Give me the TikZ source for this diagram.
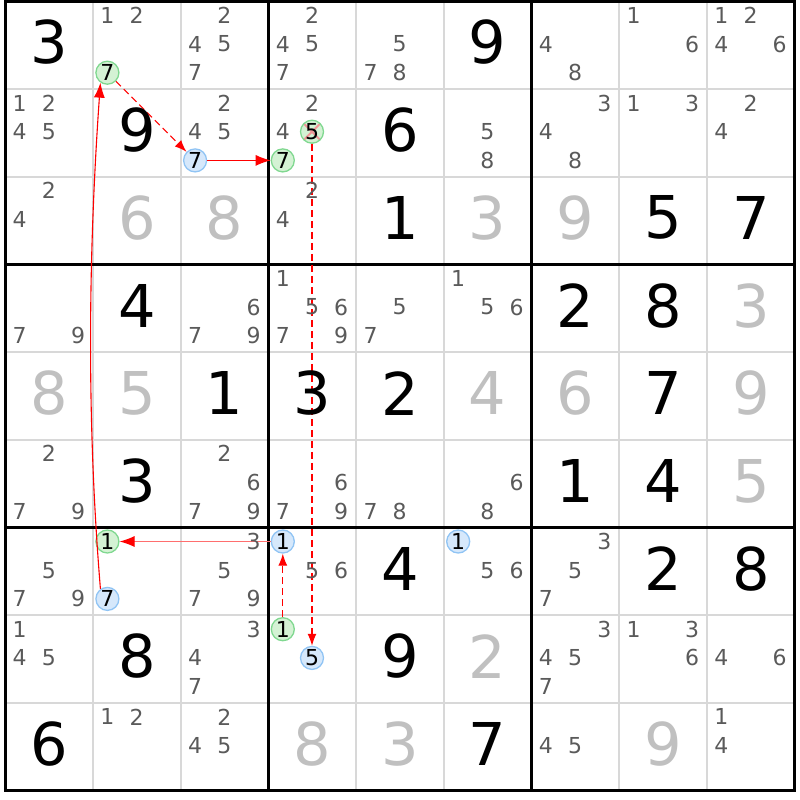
\documentclass[tikz,border=0pt]{standalone}
\usepackage{fontspec}
\setmainfont{DejaVu Sans}
\usepackage{tikz}
\usetikzlibrary{calc,arrows.meta}

\definecolor{candgray}{RGB}{90,90,90}
\definecolor{placedgray}{RGB}{192,192,192}
\definecolor{gridgray}{RGB}{216,216,216}
\definecolor{greenfill}{RGB}{212,242,212}
\definecolor{greenline}{RGB}{128,216,144}
\definecolor{bluefill}{RGB}{214,232,251}
\definecolor{blueline}{RGB}{144,196,244}
\definecolor{crossred}{RGB}{240,150,150}
\definecolor{palered}{RGB}{255,110,110}

\begin{document}
\begin{tikzpicture}[x=1pt,y=-1pt,
	cand/.style={text=candgray,font=\fontsize{22}{22}\selectfont,inner sep=0pt},
	given/.style={font=\fontsize{59}{59}\selectfont,inner sep=0pt},
	placed/.style={given,text=placedgray},
	greencand/.style={circle,draw=greenline,fill=greenfill,line width=1.3pt,inner sep=0pt,minimum size=23pt,font=\fontsize{22}{22}\selectfont},
	bluecand/.style={greencand,draw=blueline,fill=bluefill},
	crossedcand/.style={greencand,path picture={\draw[crossred,line width=2pt] (path picture bounding box.north west) -- (path picture bounding box.south east) (path picture bounding box.north east) -- (path picture bounding box.south west);}},
	link/.style={red,line width=1.1pt,-{Latex[length=15pt,width=11pt,red]}},
	dashlink/.style={link,dash pattern=on 7pt off 4pt,-{Latex[length=12pt,width=9pt,red]}}]
\useasboundingbox (0,0) rectangle (800,800);

% grid
\foreach \i in {0,...,9}
	{
	\draw[gridgray,line width=2pt] ({5.2+87.7*\i},1.5) -- ({5.2+87.7*\i},790.8);
	\draw[gridgray,line width=2pt] (5.2,{1.5+87.7*\i}) -- (794.5,{1.5+87.7*\i});
	}
\foreach \i in {0,3,6,9}
	{
	\draw[black,line width=3pt,line cap=rect] ({5.2+87.7*\i},1.5) -- ({5.2+87.7*\i},790.8);
	\draw[black,line width=3pt,line cap=rect] (5.2,{1.5+87.7*\i}) -- (794.5,{1.5+87.7*\i});
	}

% marked candidates
\foreach \r/\c/\d/\kind in {0/1/7/greencand, 1/2/7/bluecand, 1/3/5/crossedcand, 1/3/7/greencand,
	6/1/1/greencand, 6/1/7/bluecand, 6/3/1/bluecand, 6/5/1/bluecand, 7/3/1/greencand, 7/3/5/bluecand}
	{
	\node[\kind] (r\r c\c n\d) at ({5.2+87.7*\c+14.5+29.2*mod(\d-1,3)},{1.5+87.7*\r+13.8+28.7*floor((\d-1)/3)}) {\d};
	}

% chain
\draw[link] (r6c1n7.125) .. controls +(-14,-170) and +(-12,170) .. (r0c1n7.235);
\draw[dashlink] (r0c1n7) -- (r1c2n7);
\draw[link] (r1c2n7) -- (r1c3n7);
\draw[dashlink] (r1c3n5) -- (r7c3n5);
\draw[link,palered] (r6c3n1) -- (r6c1n1);
\draw[dashlink] (r7c3n1) -- (r6c3n1);

% pencil marks
\foreach \r/\c/\list in {0/1/{1,2}, 0/2/{2,4,5,7}, 0/3/{2,4,5,7}, 0/4/{5,7,8}, 0/6/{4,8}, 0/7/{1,6}, 0/8/{1,2,4,6},
	1/0/{1,2,4,5}, 1/2/{2,4,5}, 1/3/{2,4}, 1/5/{5,8}, 1/6/{3,4,8}, 1/7/{1,3}, 1/8/{2,4},
	2/0/{2,4}, 2/3/{2,4},
	3/0/{7,9}, 3/2/{6,7,9}, 3/3/{1,5,6,7,9}, 3/4/{5,7}, 3/5/{1,5,6},
	5/0/{2,7,9}, 5/2/{2,6,7,9}, 5/3/{6,7,9}, 5/4/{7,8}, 5/5/{6,8},
	6/0/{5,7,9}, 6/2/{3,5,7,9}, 6/3/{5,6}, 6/5/{5,6}, 6/6/{3,5,7},
	7/0/{1,4,5}, 7/2/{3,4,7}, 7/6/{3,4,5,7}, 7/7/{1,3,6}, 7/8/{4,6},
	8/1/{1,2}, 8/2/{2,4,5}, 8/6/{4,5}, 8/8/{1,4}}
	{
	\foreach \d in \list
		{
		\node[cand] (r\r c\c n\d) at ({5.2+87.7*\c+14.5+29.2*mod(\d-1,3)},{1.5+87.7*\r+13.8+28.7*floor((\d-1)/3)}) {\d};
		}
	}

% givens
\foreach \r/\c/\v in {0/0/3, 0/5/9, 1/1/9, 1/4/6, 2/4/1, 2/7/5, 2/8/7, 3/1/4, 3/6/2, 3/7/8,
	4/2/1, 4/3/3, 4/4/2, 4/7/7, 5/1/3, 5/6/1, 5/7/4, 6/4/4, 6/7/2, 6/8/8, 7/1/8, 7/4/9, 8/0/6, 8/5/7}
	{
	\node[given] (d\r\c) at ({5.2+87.7*\c+44},{1.5+87.7*\r+41}) {\v};
	}
% solved
\foreach \r/\c/\v in {2/1/6, 2/2/8, 2/5/3, 2/6/9, 3/8/3, 4/0/8, 4/1/5, 4/5/4, 4/6/6, 4/8/9,
	5/8/5, 7/5/2, 8/3/8, 8/4/3, 8/7/9}
	{
	\node[placed] (d\r\c) at ({5.2+87.7*\c+44},{1.5+87.7*\r+41}) {\v};
	}
\end{tikzpicture}
\end{document}
